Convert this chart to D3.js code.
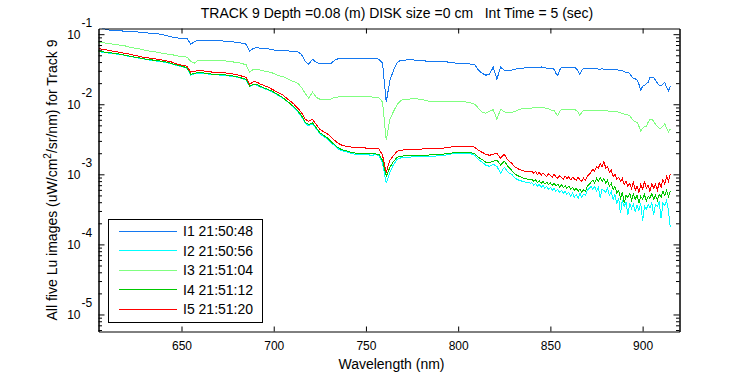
<!DOCTYPE html>
<html>
<head>
<meta charset="utf-8">
<script src="https://cdn.jsdelivr.net/npm/d3@7"></script>
<style>
body { margin: 0; background: #fff; }
text { font-family: "Liberation Sans", Arial, sans-serif; font-size: 12px; fill: #000; }
.big { font-size: 14px; }
</style>
</head>
<body>
<div id="chartDiv"></div>
<script>
// wavelength grid (nm): 2 nm steps to 839, then 1 nm
const wavelength = [
  605,607,609,611,613,615,617,619,621,623,
  625,627,629,631,633,635,637,639,641,643,
  645,647,649,651,653,655,657,659,661,663,
  665,667,669,671,673,675,677,679,681,683,
  685,687,689,691,693,695,697,699,701,703,
  705,707,709,711,713,715,717,719,721,723,
  725,727,729,731,733,735,737,739,741,743,
  745,747,749,751,753,755,757,759,761,763,
  765,767,769,771,773,775,777,779,781,783,
  785,787,789,791,793,795,797,799,801,803,
  805,807,809,811,813,815,817,819,821,823,
  825,827,829,831,833,835,837,839,
  840,841,842,843,844,845,846,847,848,849,
  850,851,852,853,854,855,856,857,858,859,
  860,861,862,863,864,865,866,867,868,869,
  870,871,872,873,874,875,876,877,878,879,
  880,881,882,883,884,885,886,887,888,889,
  890,891,892,893,894,895,896,897,898,899,
  900,901,902,903,904,905,906,907,908,909,
  910,911,912,913,914,915
];

// I1 21:50:48
const lu1 = [
  1.26e-1,1.22e-1,1.18e-1,1.14e-1,1.14e-1,1.12e-1,1.12e-1,1.10e-1,1.10e-1,1.09e-1,
  1.09e-1,1.07e-1,1.07e-1,1.05e-1,1.03e-1,1.03e-1,1.02e-1,9.84e-2,9.68e-2,9.36e-2,
  9.06e-2,8.91e-2,8.77e-2,8.77e-2,8.62e-2,7.20e-2,7.81e-2,8.21e-2,8.21e-2,8.21e-2,
  8.08e-2,8.08e-2,8.08e-2,8.08e-2,7.94e-2,7.94e-2,7.81e-2,7.69e-2,7.56e-2,7.44e-2,
  7.20e-2,5.72e-2,6.31e-2,6.41e-2,6.31e-2,6.31e-2,6.21e-2,6.01e-2,5.91e-2,5.91e-2,
  5.91e-2,5.81e-2,5.72e-2,5.72e-2,5.62e-2,5.18e-2,4.12e-2,3.73e-2,4.40e-2,3.98e-2,
  3.79e-2,3.79e-2,3.86e-2,3.79e-2,4.25e-2,4.47e-2,4.48e-2,4.48e-2,4.47e-2,4.48e-2,
  4.47e-2,4.48e-2,4.47e-2,4.48e-2,4.47e-2,4.47e-2,4.40e-2,3.86e-2,1.07e-2,2.20e-2,
  3.06e-2,3.98e-2,4.25e-2,4.25e-2,4.33e-2,4.33e-2,4.25e-2,4.25e-2,4.18e-2,4.12e-2,
  4.05e-2,4.05e-2,4.05e-2,4.05e-2,4.05e-2,3.98e-2,3.92e-2,3.86e-2,3.86e-2,3.79e-2,
  3.79e-2,3.73e-2,3.67e-2,3.06e-2,2.77e-2,2.60e-2,2.68e-2,3.38e-2,2.28e-2,3.38e-2,
  3.06e-2,3.06e-2,3.06e-2,3.16e-2,3.27e-2,3.27e-2,3.32e-2,3.32e-2,
  3.36e-2,3.36e-2,3.36e-2,3.38e-2,3.38e-2,3.41e-2,3.36e-2,3.32e-2,3.27e-2,3.24e-2,
  3.24e-2,3.24e-2,3.16e-2,2.77e-2,2.60e-2,3.06e-2,3.32e-2,3.32e-2,3.32e-2,3.32e-2,
  3.32e-2,3.32e-2,3.32e-2,3.32e-2,3.27e-2,2.96e-2,2.68e-2,3.06e-2,3.21e-2,3.21e-2,
  3.27e-2,3.24e-2,3.24e-2,3.21e-2,3.21e-2,3.21e-2,3.18e-2,3.16e-2,3.21e-2,3.16e-2,
  3.16e-2,3.16e-2,3.16e-2,3.13e-2,3.11e-2,3.11e-2,3.11e-2,3.06e-2,3.06e-2,3.01e-2,
  2.89e-2,2.87e-2,2.87e-2,2.77e-2,2.51e-2,2.35e-2,2.31e-2,2.20e-2,1.93e-2,1.59e-2,
  1.81e-2,1.87e-2,1.96e-2,2.06e-2,2.43e-2,2.45e-2,2.43e-2,2.20e-2,2.00e-2,1.87e-2,
  1.84e-2,1.93e-2,2.06e-2,1.75e-2,1.54e-2,1.81e-2
];

// I2 21:50:56
const lu2 = [
  5.62e-2,5.53e-2,5.44e-2,5.36e-2,5.27e-2,5.18e-2,5.10e-2,5.01e-2,4.85e-2,4.77e-2,
  4.62e-2,4.55e-2,4.47e-2,4.33e-2,4.25e-2,4.18e-2,4.12e-2,4.05e-2,3.98e-2,3.86e-2,
  3.73e-2,3.61e-2,3.49e-2,3.38e-2,3.27e-2,2.60e-2,2.73e-2,2.77e-2,2.77e-2,2.73e-2,
  2.68e-2,2.64e-2,2.64e-2,2.60e-2,2.60e-2,2.55e-2,2.51e-2,2.47e-2,2.39e-2,2.31e-2,
  2.24e-2,1.78e-2,1.90e-2,1.87e-2,1.75e-2,1.67e-2,1.59e-2,1.51e-2,1.42e-2,1.30e-2,
  1.22e-2,1.11e-2,1.00e-2,8.77e-3,7.81e-3,6.74e-3,5.36e-3,4.93e-3,5.27e-3,4.47e-3,
  3.79e-3,3.49e-3,3.21e-3,2.87e-3,2.55e-3,2.31e-3,2.17e-3,2.10e-3,2.03e-3,1.96e-3,
  1.93e-3,1.90e-3,1.91e-3,1.90e-3,1.87e-3,1.90e-3,1.87e-3,1.44e-3,7.44e-4,1.07e-3,
  1.39e-3,1.64e-3,1.72e-3,1.75e-3,1.75e-3,1.77e-3,1.77e-3,1.78e-3,1.77e-3,1.78e-3,
  1.81e-3,1.81e-3,1.84e-3,1.84e-3,1.87e-3,1.93e-3,1.96e-3,1.98e-3,1.98e-3,1.96e-3,
  1.98e-3,1.96e-3,1.87e-3,1.62e-3,1.49e-3,1.35e-3,1.30e-3,1.39e-3,1.30e-3,1.04e-3,
  1.26e-3,1.07e-3,1.00e-3,8.77e-4,8.21e-4,7.94e-4,7.69e-4,7.50e-4,
  7.56e-4,6.97e-4,7.44e-4,6.74e-4,7.20e-4,6.52e-4,6.97e-4,6.31e-4,6.74e-4,6.11e-4,
  6.52e-4,5.91e-4,6.31e-4,5.72e-4,6.11e-4,5.53e-4,5.91e-4,5.36e-4,5.72e-4,5.18e-4,
  5.53e-4,4.85e-4,5.36e-4,4.70e-4,5.18e-4,4.55e-4,5.36e-4,4.70e-4,5.18e-4,5.01e-4,
  5.91e-4,6.31e-4,6.74e-4,6.11e-4,6.74e-4,5.72e-4,6.52e-4,4.55e-4,6.11e-4,5.91e-4,
  5.53e-4,6.31e-4,5.01e-4,5.72e-4,4.40e-4,5.18e-4,3.86e-4,4.55e-4,2.77e-4,4.25e-4,
  3.49e-4,3.98e-4,2.60e-4,3.86e-4,3.27e-4,3.73e-4,2.87e-4,3.61e-4,3.06e-4,3.86e-4,
  2.13e-4,3.49e-4,3.16e-4,3.73e-4,3.27e-4,3.98e-4,2.60e-4,3.73e-4,3.49e-4,4.12e-4,
  2.35e-4,3.86e-4,3.61e-4,4.25e-4,3.06e-4,1.75e-4
];

// I3 21:51:04
const lu3 = [
  7.69e-2,7.62e-2,7.44e-2,7.32e-2,7.20e-2,7.08e-2,6.97e-2,6.85e-2,6.63e-2,6.41e-2,
  6.31e-2,6.21e-2,6.01e-2,5.81e-2,5.72e-2,5.62e-2,5.53e-2,5.36e-2,5.27e-2,5.18e-2,
  5.10e-2,4.93e-2,4.85e-2,4.77e-2,4.70e-2,4.12e-2,3.86e-2,4.25e-2,4.25e-2,4.25e-2,
  4.25e-2,4.25e-2,4.25e-2,4.18e-2,4.18e-2,4.12e-2,4.05e-2,3.98e-2,3.92e-2,3.79e-2,
  3.67e-2,2.87e-2,3.16e-2,3.16e-2,3.06e-2,2.96e-2,2.91e-2,2.82e-2,2.68e-2,2.55e-2,
  2.47e-2,2.35e-2,2.20e-2,2.10e-2,2.00e-2,1.75e-2,1.44e-2,1.22e-2,1.49e-2,1.26e-2,
  1.18e-2,1.16e-2,1.16e-2,1.18e-2,1.26e-2,1.27e-2,1.27e-2,1.27e-2,1.27e-2,1.27e-2,
  1.27e-2,1.27e-2,1.27e-2,1.27e-2,1.27e-2,1.26e-2,1.24e-2,1.07e-2,3.06e-3,6.11e-3,
  7.94e-3,1.00e-2,1.14e-2,1.18e-2,1.18e-2,1.20e-2,1.20e-2,1.18e-2,1.16e-2,1.12e-2,
  1.09e-2,1.09e-2,1.10e-2,1.09e-2,1.09e-2,1.08e-2,1.09e-2,1.09e-2,1.08e-2,1.09e-2,
  1.07e-2,1.04e-2,1.00e-2,8.77e-3,7.69e-3,7.44e-3,7.94e-3,8.35e-3,6.11e-3,8.48e-3,
  7.81e-3,7.62e-3,7.62e-3,7.94e-3,8.48e-3,8.62e-3,8.67e-3,8.77e-3,
  8.85e-3,8.85e-3,8.91e-3,8.97e-3,8.91e-3,8.97e-3,8.85e-3,8.85e-3,8.77e-3,8.62e-3,
  8.35e-3,8.21e-3,8.08e-3,7.44e-3,6.81e-3,7.94e-3,8.35e-3,8.40e-3,8.48e-3,8.40e-3,
  8.40e-3,8.48e-3,8.40e-3,8.40e-3,8.21e-3,7.69e-3,6.97e-3,7.69e-3,8.08e-3,8.21e-3,
  8.13e-3,8.21e-3,8.08e-3,8.21e-3,8.13e-3,8.08e-3,8.21e-3,8.08e-3,8.13e-3,8.03e-3,
  8.08e-3,8.03e-3,7.94e-3,7.94e-3,7.87e-3,7.81e-3,7.81e-3,7.69e-3,7.56e-3,7.44e-3,
  7.20e-3,7.13e-3,7.08e-3,6.85e-3,6.31e-3,5.91e-3,5.60e-3,5.53e-3,4.85e-3,4.12e-3,
  4.55e-3,4.75e-3,4.85e-3,5.53e-3,6.11e-3,6.11e-3,5.72e-3,5.18e-3,4.85e-3,4.58e-3,
  4.55e-3,4.85e-3,5.27e-3,4.55e-3,4.03e-3,4.40e-3
];

// I4 21:51:12
const lu4 = [
  5.72e-2,5.62e-2,5.53e-2,5.44e-2,5.36e-2,5.27e-2,5.18e-2,5.01e-2,4.93e-2,4.77e-2,
  4.70e-2,4.62e-2,4.47e-2,4.40e-2,4.33e-2,4.25e-2,4.18e-2,4.12e-2,4.05e-2,3.92e-2,
  3.79e-2,3.67e-2,3.55e-2,3.44e-2,3.32e-2,2.68e-2,2.77e-2,2.82e-2,2.82e-2,2.77e-2,
  2.73e-2,2.68e-2,2.68e-2,2.64e-2,2.64e-2,2.60e-2,2.55e-2,2.51e-2,2.43e-2,2.35e-2,
  2.28e-2,1.81e-2,1.93e-2,1.90e-2,1.78e-2,1.70e-2,1.62e-2,1.54e-2,1.44e-2,1.33e-2,
  1.24e-2,1.12e-2,1.02e-2,9.06e-3,8.08e-3,6.97e-3,5.53e-3,5.10e-3,5.44e-3,4.62e-3,
  3.92e-3,3.61e-3,3.32e-3,2.96e-3,2.64e-3,2.39e-3,2.24e-3,2.17e-3,2.10e-3,2.03e-3,
  2.00e-3,1.98e-3,1.98e-3,1.96e-3,1.96e-3,1.96e-3,1.93e-3,1.59e-3,9.36e-4,1.26e-3,
  1.54e-3,1.75e-3,1.81e-3,1.84e-3,1.87e-3,1.87e-3,1.87e-3,1.87e-3,1.87e-3,1.87e-3,
  1.90e-3,1.90e-3,1.93e-3,1.93e-3,1.96e-3,2.00e-3,2.02e-3,2.03e-3,2.03e-3,2.03e-3,
  2.03e-3,2.03e-3,1.96e-3,1.75e-3,1.62e-3,1.49e-3,1.46e-3,1.54e-3,1.59e-3,1.36e-3,
  1.54e-3,1.30e-3,1.14e-3,1.00e-3,9.36e-4,8.91e-4,8.62e-4,8.40e-4,
  8.48e-4,7.94e-4,8.35e-4,7.69e-4,8.08e-4,7.44e-4,7.94e-4,7.32e-4,7.69e-4,7.20e-4,
  7.56e-4,6.97e-4,7.44e-4,6.85e-4,7.20e-4,6.63e-4,7.08e-4,6.52e-4,6.85e-4,6.31e-4,
  6.74e-4,6.11e-4,6.52e-4,5.91e-4,6.31e-4,5.72e-4,6.11e-4,5.53e-4,6.01e-4,5.72e-4,
  6.74e-4,7.20e-4,7.69e-4,8.21e-4,7.44e-4,8.77e-4,7.94e-4,9.06e-4,7.94e-4,8.77e-4,
  7.44e-4,8.21e-4,6.74e-4,7.44e-4,6.11e-4,6.74e-4,5.36e-4,5.91e-4,4.55e-4,5.53e-4,
  3.86e-4,5.01e-4,4.70e-4,5.36e-4,4.25e-4,5.18e-4,4.40e-4,5.01e-4,3.86e-4,4.85e-4,
  4.40e-4,5.18e-4,4.12e-4,4.85e-4,4.55e-4,5.36e-4,4.40e-4,5.01e-4,4.25e-4,5.18e-4,
  4.70e-4,5.72e-4,5.01e-4,5.91e-4,4.85e-4,5.72e-4
];

// I5 21:51:20
const lu5 = [
  6.21e-2,6.11e-2,6.01e-2,5.81e-2,5.72e-2,5.62e-2,5.44e-2,5.36e-2,5.27e-2,5.10e-2,
  4.93e-2,4.85e-2,4.70e-2,4.62e-2,4.55e-2,4.47e-2,4.40e-2,4.33e-2,4.18e-2,4.12e-2,
  3.98e-2,3.79e-2,3.67e-2,3.55e-2,3.49e-2,2.87e-2,2.96e-2,3.01e-2,3.01e-2,2.96e-2,
  2.91e-2,2.87e-2,2.87e-2,2.82e-2,2.82e-2,2.77e-2,2.73e-2,2.68e-2,2.60e-2,2.51e-2,
  2.43e-2,1.93e-2,2.10e-2,2.06e-2,1.93e-2,1.84e-2,1.75e-2,1.64e-2,1.54e-2,1.44e-2,
  1.35e-2,1.22e-2,1.11e-2,1.00e-2,8.77e-3,7.69e-3,6.11e-3,5.72e-3,6.11e-3,5.18e-3,
  4.40e-3,4.05e-3,3.79e-3,3.44e-3,3.06e-3,2.77e-3,2.60e-3,2.51e-3,2.47e-3,2.43e-3,
  2.39e-3,2.39e-3,2.39e-3,2.35e-3,2.35e-3,2.35e-3,2.31e-3,1.87e-3,1.07e-3,1.59e-3,
  1.87e-3,2.13e-3,2.20e-3,2.24e-3,2.24e-3,2.28e-3,2.28e-3,2.28e-3,2.31e-3,2.31e-3,
  2.31e-3,2.35e-3,2.35e-3,2.35e-3,2.39e-3,2.43e-3,2.47e-3,2.51e-3,2.51e-3,2.51e-3,
  2.51e-3,2.51e-3,2.43e-3,2.20e-3,2.06e-3,1.93e-3,1.87e-3,1.93e-3,2.00e-3,1.70e-3,
  1.93e-3,1.59e-3,1.44e-3,1.26e-3,1.18e-3,1.12e-3,1.11e-3,1.09e-3,
  1.11e-3,1.04e-3,1.09e-3,1.00e-3,1.07e-3,9.68e-4,1.04e-3,9.84e-4,9.36e-4,1.02e-3,
  9.68e-4,9.06e-4,1.00e-3,9.21e-4,8.77e-4,9.52e-4,9.06e-4,8.48e-4,9.36e-4,8.77e-4,
  9.21e-4,8.35e-4,9.06e-4,8.62e-4,8.21e-4,9.06e-4,8.35e-4,7.94e-4,8.77e-4,8.21e-4,
  9.36e-4,1.00e-3,1.07e-3,1.18e-3,1.11e-3,1.30e-3,1.22e-3,1.44e-3,1.26e-3,1.54e-3,
  1.22e-3,1.30e-3,1.07e-3,1.14e-3,9.36e-4,1.00e-3,8.48e-4,9.06e-4,7.94e-4,8.77e-4,
  7.20e-4,7.94e-4,6.74e-4,7.44e-4,6.31e-4,7.69e-4,5.91e-4,6.74e-4,5.53e-4,7.20e-4,
  6.11e-4,7.94e-4,6.31e-4,6.97e-4,5.72e-4,7.44e-4,6.31e-4,7.20e-4,5.91e-4,7.69e-4,
  6.52e-4,8.48e-4,7.20e-4,9.36e-4,7.94e-4,1.00e-3
];

const seriesNames = ["I1 21:50:48", "I2 21:50:56", "I3 21:51:04", "I4 21:51:12", "I5 21:51:20"];
const seriesColors = ["#1478f0", "#00ffff", "#80ff80", "#00c800", "#ff0000"];
const xTicks = [650, 700, 750, 800, 850, 900];
const yExponents = [-5, -4, -3, -2, -1];

var margin = {top: 28, right: 71, bottom: 44, left: 98},
    width = 750 - margin.left - margin.right,
    height = 375 - margin.top - margin.bottom;

var svg = d3.select("#chartDiv")
  .append("svg")
    .attr("width", 750)
    .attr("height", 375)

const g = svg.append("g")
    .attr("transform", "translate(" + (margin.left + 0.5) + "," + (margin.top + 0.5) + ")");

var xScale = d3.scaleLinear()
  .domain([605, 920])
  .range([0, width]);

var yScale = d3.scaleLog()
  .domain([Math.pow(10, -5.243), Math.pow(10, -0.919)])
  .range([height, 0]);

// clip the traces to the axes box
g.append("clipPath")
    .attr("id", "clip")
  .append("rect")
    .attr("width", width)
    .attr("height", height)

var line = d3.line()
  .x(d => xScale(d[0]))
  .y(d => yScale(d[1]));

const allSeries = [lu1, lu2, lu3, lu4, lu5];
const plot = g.append("g").attr("clip-path", "url(#clip)");
allSeries.forEach((s, i) => {
  plot.append("path")
    .datum(d3.zip(wavelength, s))
    .attr("d", line)
    .attr("fill", "none")
    .attr("stroke", seriesColors[i])
    .attr("stroke-width", 1)
    .attr("shape-rendering", "crispEdges")
})

// axes, MATLAB style: ticks inside on all four sides
const majorY = yExponents.map(e => Math.pow(10, e));
const minorY = yScale.ticks().filter(v => Math.abs(Math.log10(v) - Math.round(Math.log10(v))) > 1e-6);

function styleAxis(sel) {
  sel.selectAll("path.domain").attr("stroke", "#000");
  sel.selectAll("line").attr("stroke", "#000");
  sel.attr("font-family", null).attr("font-size", null);
}

g.append("g")
  .attr("transform", "translate(0," + height + ")")
  .call(d3.axisBottom(xScale).tickValues(xTicks).tickSize(-5).tickSizeOuter(0).tickPadding(10))
  .call(styleAxis);

g.append("g")
  .call(d3.axisTop(xScale).tickValues(xTicks).tickSize(-5).tickSizeOuter(0).tickFormat(""))
  .call(styleAxis);

g.append("g")
  .call(d3.axisLeft(yScale).tickValues(majorY).tickSize(-6).tickSizeOuter(0).tickFormat(""))
  .call(styleAxis);
g.append("g")
  .call(d3.axisLeft(yScale).tickValues(minorY).tickSize(-3.5).tickSizeOuter(0).tickFormat(""))
  .call(styleAxis);

g.append("g")
  .attr("transform", "translate(" + width + ",0)")
  .call(d3.axisRight(yScale).tickValues(majorY).tickSize(-6).tickSizeOuter(0).tickFormat(""))
  .call(styleAxis);
g.append("g")
  .attr("transform", "translate(" + width + ",0)")
  .call(d3.axisRight(yScale).tickValues(minorY).tickSize(-3.5).tickSizeOuter(0).tickFormat(""))
  .call(styleAxis);

// y tick labels as 10 with a raised exponent
const yLab = g.append("g").selectAll("g")
  .data(yExponents)
  .enter().append("g")
    .attr("transform", d => "translate(0," + yScale(Math.pow(10, d)) + ")");
yLab.append("text")
  .attr("x", -18)
  .attr("y", 5)
  .attr("text-anchor", "end")
  .text("10");
yLab.append("text")
  .attr("x", -17)
  .attr("y", -7)
  .text(d => d);

// title and axis labels
svg.append("text")
  .attr("class", "big")
  .attr("x", 397)
  .attr("y", 18)
  .attr("text-anchor", "middle")
  .style("white-space", "pre")
  .text("TRACK 9 Depth =0.08 (m) DISK size =0 cm   Int Time = 5 (sec)");

svg.append("text")
  .attr("class", "big")
  .attr("x", 391.5)
  .attr("y", 369)
  .attr("text-anchor", "middle")
  .text("Wavelength (nm)");

const ylabel = svg.append("text")
  .attr("class", "big")
  .attr("transform", "translate(57,180) rotate(-90)")
  .attr("text-anchor", "middle");
ylabel.append("tspan").text("All five Lu images (uW/cm");
ylabel.append("tspan").attr("dy", -6).style("font-size", "10px").text("2");
ylabel.append("tspan").attr("dy", 6).text("/sr/nm) for Track 9");

// legend
const legend = svg.append("g").attr("transform", "translate(108.5,219.5)");
legend.append("rect")
  .attr("width", 154)
  .attr("height", 103)
  .attr("fill", "#fff")
  .attr("stroke", "#000");
const items = legend.selectAll("g.item")
  .data(seriesNames)
  .enter().append("g")
    .attr("class", "item")
    .attr("transform", (d, i) => "translate(0," + (11.5 + i * 19.5) + ")");
items.append("line")
  .attr("x1", 10.5).attr("x2", 68.5)
  .attr("stroke", (d, i) => seriesColors[i])
  .attr("shape-rendering", "crispEdges");
items.append("text")
  .attr("class", "big")
  .attr("x", 74.5)
  .attr("y", 5)
  .text(d => d);
</script>
</body>
</html>
